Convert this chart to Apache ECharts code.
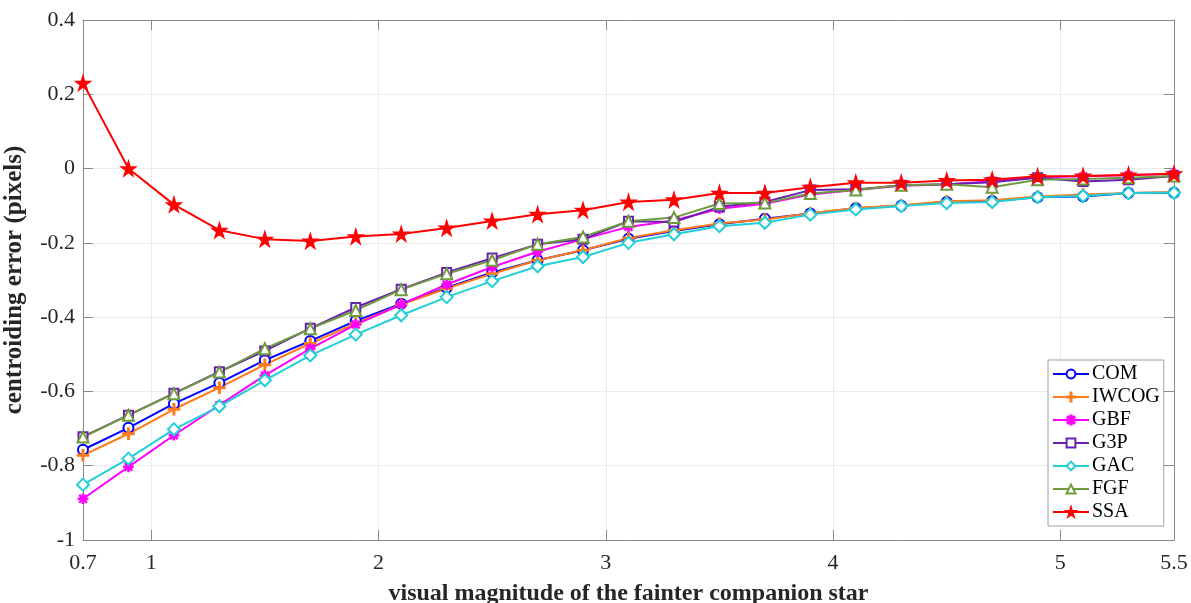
<!DOCTYPE html>
<html>
<head>
<meta charset="utf-8">
<script src="https://cdn.jsdelivr.net/npm/echarts@6/dist/echarts.min.js"></script>
<style>html,body{margin:0;padding:0;background:#fff;}#chart{width:1191px;height:603px;}</style>
</head>
<body>
<div id="chart"></div>
<script>
// ---- data ----
const magnitudes = [0.7, 0.9, 1.1, 1.3, 1.5, 1.7, 1.9, 2.1, 2.3, 2.5, 2.7, 2.9, 3.1, 3.3, 3.5, 3.7, 3.9, 4.1, 4.3, 4.5, 4.7, 4.9, 5.1, 5.3, 5.5];
const xTickValues = [0.7, 1, 2, 3, 4, 5, 5.5];
const yTickValues = [-1, -0.8, -0.6, -0.4, -0.2, 0, 0.2, 0.4];
const seriesNames = ['COM', 'IWCOG', 'GBF', 'G3P', 'GAC', 'FGF', 'SSA'];
const COM   = [-0.757, -0.698, -0.633, -0.577, -0.516, -0.464, -0.410, -0.364, -0.321, -0.280, -0.247, -0.220, -0.189, -0.168, -0.150, -0.135, -0.121, -0.107, -0.100, -0.090, -0.087, -0.077, -0.075, -0.066, -0.065];
const IWCOG = [-0.772, -0.714, -0.648, -0.590, -0.528, -0.471, -0.417, -0.366, -0.323, -0.283, -0.247, -0.220, -0.187, -0.166, -0.148, -0.137, -0.120, -0.106, -0.099, -0.088, -0.085, -0.075, -0.070, -0.066, -0.063];
const GBF   = [-0.889, -0.803, -0.718, -0.637, -0.557, -0.485, -0.420, -0.366, -0.312, -0.265, -0.224, -0.190, -0.157, -0.140, -0.108, -0.095, -0.070, -0.058, -0.046, -0.043, -0.034, -0.024, -0.021, -0.018, -0.014];
const G3P   = [-0.722, -0.664, -0.605, -0.547, -0.491, -0.430, -0.374, -0.325, -0.280, -0.241, -0.204, -0.190, -0.142, -0.144, -0.103, -0.090, -0.058, -0.056, -0.045, -0.042, -0.037, -0.025, -0.035, -0.030, -0.020];
const GAC   = [-0.851, -0.781, -0.702, -0.640, -0.570, -0.503, -0.447, -0.395, -0.346, -0.303, -0.263, -0.238, -0.200, -0.177, -0.155, -0.146, -0.124, -0.110, -0.101, -0.093, -0.090, -0.077, -0.074, -0.066, -0.065];
const FGF   = [-0.723, -0.664, -0.606, -0.548, -0.485, -0.431, -0.382, -0.326, -0.283, -0.247, -0.204, -0.184, -0.142, -0.132, -0.094, -0.093, -0.067, -0.058, -0.045, -0.042, -0.050, -0.030, -0.028, -0.025, -0.020];
const SSA   = [0.230, 0.000, -0.097, -0.166, -0.190, -0.195, -0.183, -0.176, -0.160, -0.141, -0.123, -0.112, -0.090, -0.084, -0.066, -0.066, -0.050, -0.038, -0.038, -0.032, -0.030, -0.021, -0.020, -0.017, -0.014];

// ---- styles ----
const colors = ['#0000ff', '#ff7a1a', '#ff00ff', '#6a1fb0', '#22cfd6', '#6e9c3c', '#ff0000'];
const plusPath = 'path://M4.4,0h1.2v4.4h4.4v1.2h-4.4v4.4h-1.2v-4.4h-4.4v-1.2h4.4z';
const asteriskPath = 'path://M4.5,0h1v10h-1zM0,4.5h10v1h-10zM1,1.7L1.7,1L9,8.3L8.3,9ZM8.3,1L9,1.7L1.7,9L1,8.3Z';
const starPath = 'path://M50,0L61,35L98,35L68,57L79,91L50,70L21,91L32,57L2,35L39,35Z';
const symbols = ['emptyCircle', plusPath, asteriskPath, 'emptyRect', 'emptyDiamond', 'emptyTriangle', starPath];
const symbolSizes = [10, 11, 9, 9, 12, 11, 14];
const allData = [COM, IWCOG, GBF, G3P, GAC, FGF, SSA];

const font = 'Liberation Serif';
const frameColor = '#8a8a8a';
const gridColor = '#ebebeb';

const series = seriesNames.map((name, k) => ({
  name: name,
  type: 'line',
  xAxisIndex: 0,
  yAxisIndex: 0,
  data: magnitudes.map((x, i) => [x, allData[k][i]]),
  symbol: symbols[k],
  symbolSize: symbolSizes[k],
  showAllSymbol: true,
  color: colors[k],
  lineStyle: { width: 2, color: colors[k] },
  itemStyle: { color: colors[k], borderColor: colors[k], borderWidth: 1.6 },
  emphasis: { disabled: true },
  animation: false
}));

const fmt = v => String(parseFloat(Number(v).toFixed(2)));

const chart = echarts.init(document.getElementById('chart'), null, { renderer: 'canvas' });
chart.setOption({
  backgroundColor: '#ffffff',
  animation: false,
  grid: { left: 83, right: 17, top: 20, bottom: 63, containLabel: false, outerBoundsMode: 'none' },
  legend: {
    orient: 'vertical',
    left: 1048,
    top: 360,
    padding: [4, 4, 4, 4],
    itemWidth: 36,
    itemHeight: 11,
    itemGap: 3,
    borderColor: '#a0a0a0',
    borderWidth: 1,
    backgroundColor: '#ffffff',
    textStyle: { fontFamily: font, fontSize: 20, color: '#000', lineHeight: 20, padding: [0, 0, 0, -2] },
    data: seriesNames
  },
  xAxis: [
    {
      type: 'value', position: 'bottom', min: 0.7, max: 5.5,
      name: 'visual magnitude of the fainter companion star',
      nameLocation: 'middle', nameGap: 42,
      nameTextStyle: { fontFamily: font, fontSize: 24, fontWeight: 'bold', color: '#262626' },
      axisLine: { show: true, onZero: false, lineStyle: { color: frameColor, width: 1 } },
      axisTick: { show: true, inside: true, length: 10, customValues: xTickValues, lineStyle: { color: frameColor } },
      axisLabel: { customValues: xTickValues, formatter: fmt, fontFamily: font, fontSize: 22, color: '#262626', margin: 12 },
      splitLine: { show: true, lineStyle: { color: gridColor, width: 1 } }
    },
    {
      type: 'value', position: 'top', min: 0.7, max: 5.5,
      axisLine: { show: true, onZero: false, lineStyle: { color: frameColor, width: 1 } },
      axisTick: { show: true, inside: true, length: 10, customValues: xTickValues, lineStyle: { color: frameColor } },
      axisLabel: { show: false },
      splitLine: { show: false }
    }
  ],
  yAxis: [
    {
      type: 'value', position: 'left', min: -1, max: 0.4, interval: 0.2,
      name: 'centroiding error (pixels)',
      nameLocation: 'middle', nameGap: 56,
      nameTextStyle: { fontFamily: font, fontSize: 25, fontWeight: 'bold', color: '#262626' },
      axisLine: { show: true, onZero: false, lineStyle: { color: frameColor, width: 1 } },
      axisTick: { show: true, inside: true, length: 10, customValues: yTickValues, lineStyle: { color: frameColor } },
      axisLabel: { customValues: yTickValues, formatter: fmt, fontFamily: font, fontSize: 22, color: '#262626', margin: 8 },
      splitLine: { show: true, lineStyle: { color: gridColor, width: 1 } }
    },
    {
      type: 'value', position: 'right', min: -1, max: 0.4, interval: 0.2,
      axisLine: { show: true, onZero: false, lineStyle: { color: frameColor, width: 1 } },
      axisTick: { show: true, inside: true, length: 10, customValues: yTickValues, lineStyle: { color: frameColor } },
      axisLabel: { show: false },
      splitLine: { show: false }
    }
  ],
  series: series
});
</script>
</body>
</html>
